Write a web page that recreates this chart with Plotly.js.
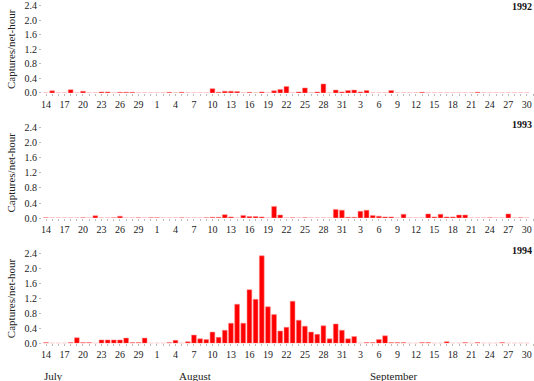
<!DOCTYPE html>
<html>
<head>
<meta charset="utf-8">
<script src="https://cdn.plot.ly/plotly-3.0.1.min.js"></script>
<style>html,body{margin:0;padding:0;background:#fff}#chart{width:534px;height:381px}</style>
</head>
<body>
<div id="chart"></div>
<script>
// Day labels (July 14 .. September 30)
const julyDays = [14,15,16,17,18,19,20,21,22,23,24,25,26,27,28,29,30,31];
const augDays = [1,2,3,4,5,6,7,8,9,10,11,12,13,14,15,16,17,18,19,20,21,22,23,24,25,26,27,28,29,30,31];
const sepDays = [1,2,3,4,5,6,7,8,9,10,11,12,13,14,15,16,17,18,19,20,21,22,23,24,25,26,27,28,29,30];
const monthLabels = ["July", "August", "September"];
const years = ["1992", "1993", "1994"];

// Captures per net-hour, by month
const y1992Jul = [0,0.06,0,0,0.09,0,0.05,0,0,0.03,0.03,0,0.02,0.02,0.02,0,0,0];
const y1992Aug = [0,0,0.02,0,0.02,0,0,0,0,0.12,0.02,0.05,0.05,0.04,0,0.02,0,0.03,0,0.06,0.10,0.18,0,0.03,0.14,0,0.03,0.25,0,0.08,0.03];
const y1992Sep = [0.07,0.08,0.03,0.07,0,0,0,0.07,0,0,0,0,0.02,0,0,0,0,0,0,0,0,0.02,0,0,0,0,0,0,0,0];

const y1993Jul = [0.01,0,0,0,0,0,0.01,0,0.06,0,0,0.01,0.05,0,0,0.01,0,0.01];
const y1993Aug = [0.01,0,0,0,0.01,0,0,0,0.01,0.02,0.02,0.09,0.03,0,0.07,0.04,0.04,0.03,0,0.31,0.08,0,0.01,0,0.01,0,0,0,0,0.23,0.21];
const y1993Sep = [0.02,0.02,0.18,0.21,0.07,0.05,0.03,0.03,0,0.10,0,0,0,0.11,0.03,0.10,0.03,0.03,0.08,0.08,0,0,0,0.01,0,0,0.11,0,0.01,0];

const y1994Jul = [0.02,0,0,0,0.02,0.15,0.02,0.02,0,0.09,0.09,0.09,0.09,0.14,0.02,0.02,0.14,0];
const y1994Aug = [0,0,0.02,0.08,0,0.04,0.22,0.12,0.10,0.30,0.16,0.35,0.54,1.05,0.54,1.44,1.18,2.35,0.98,0.77,0.33,0.43,1.13,0.62,0.46,0.30,0.24,0.47,0.12,0.52,0.35];
const y1994Sep = [0.12,0.18,0,0.02,0.02,0.10,0.20,0.02,0.02,0.02,0,0,0.02,0.02,0,0,0.04,0,0,0.02,0,0.02,0,0,0,0.02,0,0,0,0];

const dayLabels = julyDays.concat(augDays, sepDays).map(String);
const xIdx = dayLabels.map((_, i) => i);
const series = [
  y1992Jul.concat(y1992Aug, y1992Sep),
  y1993Jul.concat(y1993Aug, y1993Sep),
  y1994Jul.concat(y1994Aug, y1994Sep)
];

const tickVals = xIdx.filter(i => i % 3 === 0);
const tickText = tickVals.map(i => dayLabels[i]);

const font = {family: "Liberation Serif, Times New Roman, serif", size: 10, color: "#222"};
const domains = [[0.7559, 0.9852], [0.4278, 0.6651], [0.0990, 0.3344]];
const yearY = [0.984, 0.6745, 0.3438];

const traces = series.map((vals, k) => ({
  type: "bar",
  x: xIdx,
  y: vals,
  xaxis: k === 0 ? "x" : "x" + (k + 1),
  yaxis: k === 0 ? "y" : "y" + (k + 1),
  marker: {color: "#ff0000", line: {color: "rgba(255,140,140,0.9)", width: 0.6}},
  hoverinfo: "x+y",
  showlegend: false
}));

const layout = {
  width: 534, height: 381,
  margin: {l: 42, r: 1, t: 0, b: 0},
  paper_bgcolor: "#fff", plot_bgcolor: "#fff",
  font: font,
  bargap: 0.22,
  annotations: [],
  showlegend: false
};

for (let k = 0; k < 3; k++) {
  const xs = k === 0 ? "" : String(k + 1);
  layout["xaxis" + xs] = {
    domain: [0, 1], anchor: "y" + xs, range: [-0.65, 79],
    tickmode: "array", tickvals: tickVals, ticktext: tickText,
    ticks: "outside", ticklen: 2, tickcolor: "#bbb", tickwidth: 1,
    minor: {tickmode: "linear", tick0: 0, dtick: 1, ticks: "outside", ticklen: 2, tickcolor: "#bbb", tickwidth: 1},
    showline: false, showgrid: false, zeroline: false,
    tickfont: font, fixedrange: true
  };
  layout["yaxis" + xs] = {
    domain: domains[k], anchor: "x" + xs, range: [0, 2.41],
    tickmode: "array", tickvals: [0, 0.4, 0.8, 1.2, 1.6, 2.0, 2.4],
    ticktext: ["0.0", "0.4", "0.8", "1.2", "1.6", "2.0", "2.4"],
    ticks: "outside", ticklen: 2, tickcolor: "#bbb", tickwidth: 1,
    ticklabeloverflow: "allow",
    showline: false, showgrid: false, zeroline: false,
    tickfont: font, fixedrange: true,
    title: {text: "Captures/net-hour", font: {family: font.family, size: 11, color: "#222"}, standoff: 6}
  };
  layout.annotations.push({
    text: "<b>" + years[k] + "</b>", xref: "paper", yref: "paper",
    x: 1, y: yearY[k], xanchor: "right", yanchor: "middle", showarrow: false,
    borderpad: 0,
    font: {family: font.family, size: 10, color: "#111"}
  });
}

const monthPos = [[-0.65, "left"], [24.2, "center"], [56.4, "center"]];
monthLabels.forEach((m, i) => {
  layout.annotations.push({
    text: m, xref: "x3", yref: "paper", x: monthPos[i][0], y: 0.012,
    xanchor: monthPos[i][1], yanchor: "middle", showarrow: false,
    font: {family: font.family, size: 11, color: "#222"}
  });
});

Plotly.newPlot("chart", traces, layout, {displayModeBar: false, staticPlot: true});
</script>
</body>
</html>
